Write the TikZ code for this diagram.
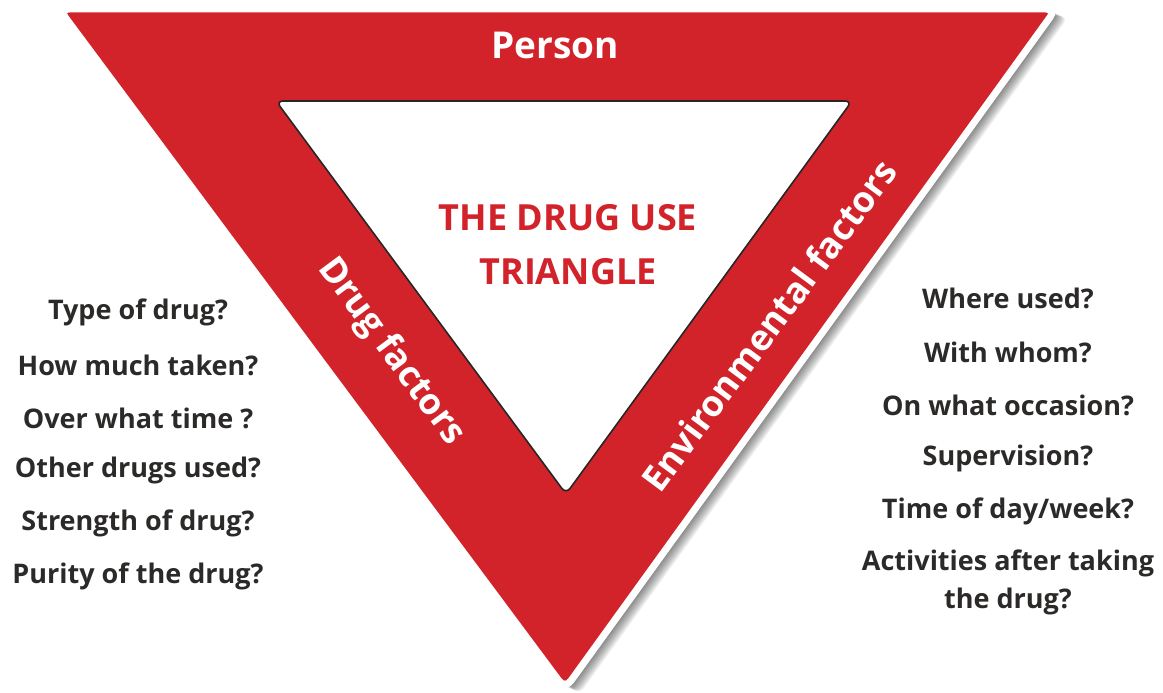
\documentclass[tikz,border=0pt]{standalone}
\usepackage{fontspec}
\setmainfont{Open Sans}
\usetikzlibrary{calc}
\definecolor{tred}{HTML}{D2232A}
\definecolor{ttext}{HTML}{2B2A29}
\tikzset{
  factor/.style={text=ttext, font=\bfseries\fontsize{27}{30}\selectfont, anchor=center, inner sep=0},
  sidelabel/.style={text=white, font=\bfseries\fontsize{36}{40}\selectfont, inner sep=0},
  titletxt/.style={text=tred, font=\bfseries\fontsize{36}{54}\selectfont, align=center, inner sep=0},
}
\begin{document}
\begin{tikzpicture}[x=1pt,y=-1pt]
\useasboundingbox (0,0) rectangle (1163,693);
\coordinate (A) at (59,9);
\coordinate (B) at (1056,9);
\coordinate (C) at (565,689);
% shadow
\foreach \k in {1,...,12}{
  \fill[black,opacity=0.06,rounded corners=10]
    ($(A)+(\k*1.1pt,-1pt-\k*0.5pt)$) -- ($(B)+(\k*1.1pt,-1pt-\k*0.5pt)$) -- ($(C)+(\k*1.1pt,-1pt-\k*0.5pt)$) -- cycle;
}
% outer triangle
\draw[white,line width=7,fill=tred,rounded corners=10,line join=round] (A)--(B)--(C)--cycle;
% inner triangle
\coordinate (IA) at (276,101);
\coordinate (IB) at (852,101);
\coordinate (IC) at (566,494);
\draw[black!85,line width=1.6,fill=white,rounded corners=7] (IA)--(IB)--(IC)--cycle;
% labels
\node[sidelabel,font=\bfseries\fontsize{37}{40}\selectfont] (person) at (555,45) {Person};
\node[sidelabel,rotate=-53.5] (drug) at (391,352) {Drug factors};
\node[sidelabel,rotate=53.5] (env) at (769,325) {Environmental factors};
\node[titletxt] (title) at (568,245) {THE DRUG USE\\TRIANGLE};
% left list
\node[factor] (l1) at (138,312) {Type of drug?};
\node[factor] (l2) at (138,365) {How much taken?};
\node[factor] (l3) at (138,418) {Over what time ?};
\node[factor] (l4) at (138,470) {Other drugs used?};
\node[factor] (l5) at (138,523) {Strength of drug?};
\node[factor] (l6) at (138,576) {Purity of the drug?};
% right list
\node[factor] (r1) at (1008,298) {Where used?};
\node[factor] (r2) at (1008,352) {With whom?};
\node[factor] (r3) at (1008,405) {On what occasion?};
\node[factor] (r4) at (1008,458) {Supervision?};
\node[factor] (r5) at (1008,511) {Time of day/week?};
\node[factor] (r6) at (1008,563) {Activities after taking};
\node[factor] (r7) at (1008,601) {the drug?};
\end{tikzpicture}
\end{document}
